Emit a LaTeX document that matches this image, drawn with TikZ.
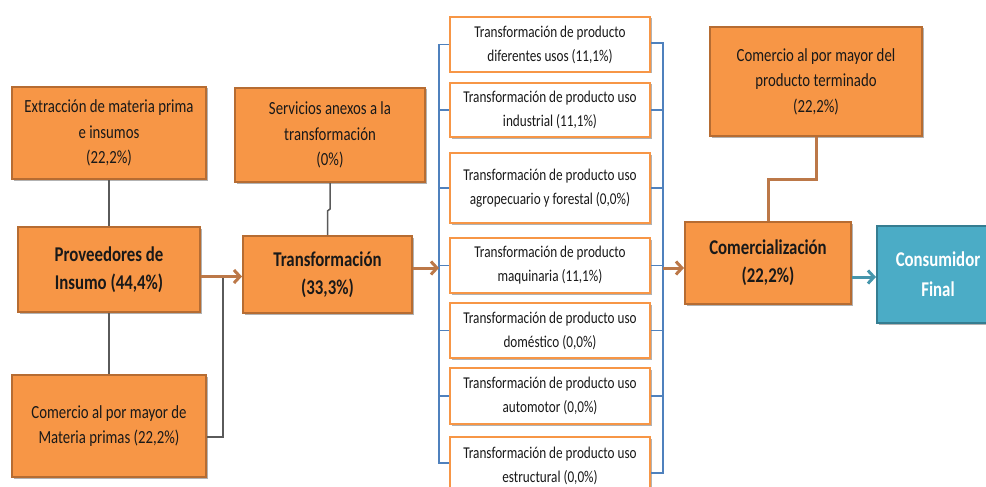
\documentclass[tikz,border=0pt]{standalone}
\usepackage{fontspec}
\setmainfont{Carlito}[FakeStretch=0.8]
\usetikzlibrary{arrows.meta,shadows}

\definecolor{boxfill}{HTML}{F79646}
\definecolor{boxedge}{RGB}{182,108,50}
\definecolor{tealfill}{HTML}{4BACC6}
\definecolor{tealedge}{HTML}{357D91}
\definecolor{arrowbrown}{RGB}{188,120,72}
\definecolor{arrowteal}{RGB}{70,150,172}
\definecolor{linegray}{RGB}{90,90,90}
\definecolor{lineblue}{HTML}{4F81BD}
\definecolor{ink}{RGB}{25,25,25}

\tikzset{
  shade box/.style={drop shadow={shadow xshift=1.5pt,shadow yshift=-1.5pt,opacity=0.3,fill=black}},
  obox/.style={draw=boxedge, line width=2pt, fill=boxfill, shade box, align=center, inner sep=0pt,
    text=ink, font=\fontsize{18.5}{25.5}\selectfont},
  mainbox/.style={obox, font=\bfseries\fontsize{21}{28}\selectfont},
  wbox/.style={draw=boxfill, line width=2.5pt, fill=white, shade box, align=center, inner sep=0pt,
    text=ink, font=\fontsize{16.5}{24}\selectfont},
  tbox/.style={draw=tealedge, line width=2pt, fill=tealfill, shade box, align=center, inner sep=0pt,
    text=white, font=\bfseries\fontsize{21}{30}\selectfont},
  conn/.style={draw=linegray, line width=1.5pt},
  bline/.style={draw=lineblue, line width=1.5pt},
  flow/.style={draw=arrowbrown, line width=3pt, -{Straight Barb[length=6pt,width=13pt]}},
  tealflow/.style={draw=arrowteal, line width=3pt, -{Straight Barb[length=6pt,width=13pt]}},
  brownline/.style={draw=arrowbrown, line width=3pt},
}

\begin{document}
\begin{tikzpicture}[x=1pt,y=-1pt]
\useasboundingbox (0,0) rectangle (986,487);
\clip (0,0) rectangle (986,487);

% supply side
\node[obox, minimum width=194pt, minimum height=92pt] (ext) at (109,133)
  {Extracción de materia prima\\e insumos\\(22,2\%)};
\node[mainbox, minimum width=182pt, minimum height=85pt] (prov) at (109,269.5)
  {Proveedores de\\Insumo (44,4\%)};
\node[obox, minimum width=194pt, minimum height=102pt] (cmp) at (109,426)
  {Comercio al por mayor de\\Materia primas (22,2\%)};

% transformation
\node[obox, minimum width=190pt, minimum height=94pt] (serv) at (330,135)
  {Servicios anexos a la\\transformación\\(0\%)};
\node[mainbox, minimum width=169pt, minimum height=77pt] (trans) at (327.5,274.5)
  {Transformación\\(33,3\%)};

% product lines
\node[wbox, minimum width=200pt, minimum height=55pt] (t1) at (550,44.5)
  {Transformación de producto\\diferentes usos (11,1\%)};
\node[wbox, minimum width=200pt, minimum height=54pt] (t2) at (550,110)
  {Transformación de producto uso\\industrial (11,1\%)};
\node[wbox, minimum width=200pt, minimum height=70pt] (t3) at (550,188)
  {Transformación de producto uso\\agropecuario y forestal (0,0\%)};
\node[wbox, minimum width=200pt, minimum height=55pt] (t4) at (550,265.5)
  {Transformación de producto\\maquinaria (11,1\%)};
\node[wbox, minimum width=200pt, minimum height=55pt] (t5) at (550,330.5)
  {Transformación de producto uso\\doméstico (0,0\%)};
\node[wbox, minimum width=200pt, minimum height=56pt] (t6) at (550,396)
  {Transformación de producto uso\\automotor (0,0\%)};
\node[wbox, minimum width=200pt, minimum height=58pt] (t7) at (550,466)
  {Transformación de producto uso\\estructural (0,0\%)};

% trade and consumer
\node[obox, minimum width=212pt, minimum height=109pt] (cpt) at (816,81.5)
  {Comercio al por mayor del\\producto terminado\\(22,2\%)};
\node[mainbox, minimum width=166pt, minimum height=82pt] (com) at (768,263)
  {Comercialización\\(22,2\%)};
\node[tbox, minimum width=122pt, minimum height=97pt] (cons) at (938,274.5)
  {Consumidor\\Final};

% group rails
\coordinate (gL) at (439,268);
\coordinate (gR) at (663,268);
\coordinate (j) at (223,277);

% connectors on the supply side
\draw[conn] (ext) -- (prov);
\draw[conn] (prov) -- (cmp);
\draw[conn] ([yshift=-11pt]cmp.east) -| (j);
\draw[conn] (serv.south) -- ++(0,26) -- ++(-2.5,2) -- (trans.north);
\draw[flow] ([yshift=-7pt]prov.east) -- ([yshift=-7pt]prov.east -| trans.west);

% left rail
\draw[bline] (t1.west) -- (t1.west -| gL) -- ([yshift=3pt]t7.west -| gL) -- ([yshift=3pt]t7.west);
\foreach \k in {2,...,6} \draw[bline] (t\k.west) -- (t\k.west -| gL);
% right rail
\draw[bline] ([yshift=1.5pt]t1.east) -- ([yshift=1.5pt]t1.east -| gR) -- ([yshift=-7pt]t7.east -| gR) -- ([yshift=-7pt]t7.east);
\foreach \k in {2,...,6} \draw[bline] (t\k.east) -- (t\k.east -| gR);

\draw[flow] (trans.east |- gL) -- (gL);
\draw[flow] (gR) -- (gR -| com.west);

% trade connectors
\draw[brownline] (cpt.south) -- ++(0,42) -| (com.north);
\draw[tealflow] ([yshift=-14pt]com.east) -- ([yshift=-14pt]com.east -| cons.west);
\end{tikzpicture}
\end{document}
